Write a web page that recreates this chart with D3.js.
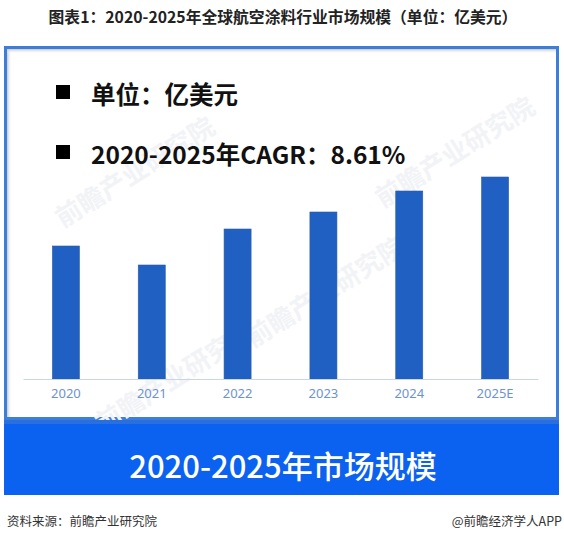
<!DOCTYPE html>
<html>
<head>
<meta charset="utf-8">
<script src="https://cdn.jsdelivr.net/npm/d3@7/dist/d3.min.js"></script>
<style>
  html, body { margin: 0; padding: 0; background: #fff; }
  svg { display: block; }
</style>
</head>
<body>
<svg id="chart" width="564" height="542"></svg>
<script>
const titleText = "图表1：2020-2025年全球航空涂料行业市场规模（单位：亿美元）";
const categories = ["2020", "2021", "2022", "2023", "2024", "2025E"];
const values = [26.6, 22.8, 30.0, 33.4, 37.6, 40.4];
const legendLines = ["单位：亿美元", "2020-2025年CAGR：8.61%"];
const bannerText = "2020-2025年市场规模";
const sourceText = "资料来源：前瞻产业研究院";
const brandText = "@前瞻经济学人APP";
const watermarkText = "前瞻产业研究院";

const FONT = "'Noto Sans CJK SC', 'Noto Sans', sans-serif";
const svg = d3.select("#chart");

// Title
svg.append("text")
  .attr("x", 283).attr("y", 23)
  .attr("text-anchor", "middle")
  .attr("font-family", FONT)
  .attr("font-weight", "bold")
  .attr("font-size", 15.8)
  .attr("fill", "#222")
  .text(titleText);

// Defs: inner shadow gradients
const defs = svg.append("defs");
const gl = defs.append("linearGradient").attr("id", "shL").attr("x1", 0).attr("x2", 1).attr("y1", 0).attr("y2", 0);
gl.append("stop").attr("offset", 0).attr("stop-color", "#c8c8c8");
gl.append("stop").attr("offset", 1).attr("stop-color", "#ffffff").attr("stop-opacity", 0);
const gt = defs.append("linearGradient").attr("id", "shT").attr("x1", 0).attr("x2", 0).attr("y1", 0).attr("y2", 1);
gt.append("stop").attr("offset", 0).attr("stop-color", "#c8c8c8");
gt.append("stop").attr("offset", 1).attr("stop-color", "#ffffff").attr("stop-opacity", 0);

// Outer frame
const frameX = 4, frameY = 46, frameW = 555, frameH = 374;
svg.append("rect")
  .attr("x", frameX + 1.5).attr("y", frameY + 1.5)
  .attr("width", frameW - 3).attr("height", frameH - 3)
  .attr("fill", "#fff")
  .attr("stroke", "#3b7edb").attr("stroke-width", 3);
svg.append("rect").attr("x", frameX + 3).attr("y", frameY + 3).attr("width", 5).attr("height", frameH - 6).attr("fill", "url(#shL)");
svg.append("rect").attr("x", frameX + 3).attr("y", frameY + 3).attr("width", frameW - 6).attr("height", 5).attr("fill", "url(#shT)");

// Watermarks (faint)
const wm = [[140, 180], [460, 160], [330, 300], [180, 385]];
wm.forEach(([x, y]) => {
  svg.append("text")
    .attr("transform", `translate(${x},${y}) rotate(-32)`)
    .attr("text-anchor", "middle")
    .attr("font-family", FONT)
    .attr("font-weight", "bold")
    .attr("font-size", 26)
    .attr("fill", "#f1f3f6")
    .text(watermarkText);
});

// Legend
const legendY = [93, 153];
legendLines.forEach((t, i) => {
  svg.append("rect")
    .attr("x", 56).attr("y", legendY[i] - 8)
    .attr("width", 14).attr("height", 14)
    .attr("fill", "#000");
  svg.append("text")
    .attr("x", 91).attr("y", legendY[i])
    .attr("dominant-baseline", "central")
    .attr("font-family", FONT)
    .attr("font-weight", "bold")
    .attr("font-size", 24.5)
    .attr("fill", "#111")
    .text(t);
});

// Scales
const x = d3.scaleBand()
  .domain(categories)
  .range([23, 538])
  .paddingInner(0.685)
  .paddingOuter(0.3425);
const y = d3.scaleLinear()
  .domain([0, 40.4])
  .range([379, 177]);

// Bars
svg.append("g").selectAll("rect")
  .data(values)
  .join("rect")
  .attr("x", (d, i) => x(categories[i]))
  .attr("y", d => y(d))
  .attr("width", x.bandwidth())
  .attr("height", d => y(0) - y(d))
  .attr("fill", "#1f60c2")
  .attr("stroke", "#2a5ea8")
  .attr("stroke-width", 0.6);

// X axis
const axis = svg.append("g")
  .attr("transform", `translate(0,${y(0)})`)
  .call(d3.axisBottom(x).tickSize(0).tickPadding(10));
axis.select(".domain").attr("stroke", "#c9d6ea").attr("stroke-width", 1);
axis.selectAll("text")
  .attr("font-family", "'Noto Sans', sans-serif")
  .attr("font-size", 13)
  .attr("fill", "#6d93cf");

// Banner
svg.append("rect")
  .attr("x", 4).attr("y", 420)
  .attr("width", 555).attr("height", 75)
  .attr("fill", "#0b62f0");
svg.append("rect")
  .attr("x", 4).attr("y", 420)
  .attr("width", 555).attr("height", 4)
  .attr("fill", "#2a6fe0");
svg.append("text")
  .attr("x", 283).attr("y", 464)
  .attr("text-anchor", "middle")
  .attr("dominant-baseline", "central")
  .attr("font-family", FONT)
  .attr("font-weight", 500)
  .attr("font-size", 31)
  .attr("fill", "#fff")
  .text(bannerText);

// Footer
svg.append("text")
  .attr("x", 7).attr("y", 520)
  .attr("dominant-baseline", "central")
  .attr("font-family", FONT)
  .attr("font-size", 12.5)
  .attr("fill", "#333")
  .text(sourceText);
svg.append("text")
  .attr("x", 562).attr("y", 520)
  .attr("text-anchor", "end")
  .attr("dominant-baseline", "central")
  .attr("font-family", FONT)
  .attr("font-size", 12.5)
  .attr("fill", "#333")
  .text(brandText);
</script>
</body>
</html>
